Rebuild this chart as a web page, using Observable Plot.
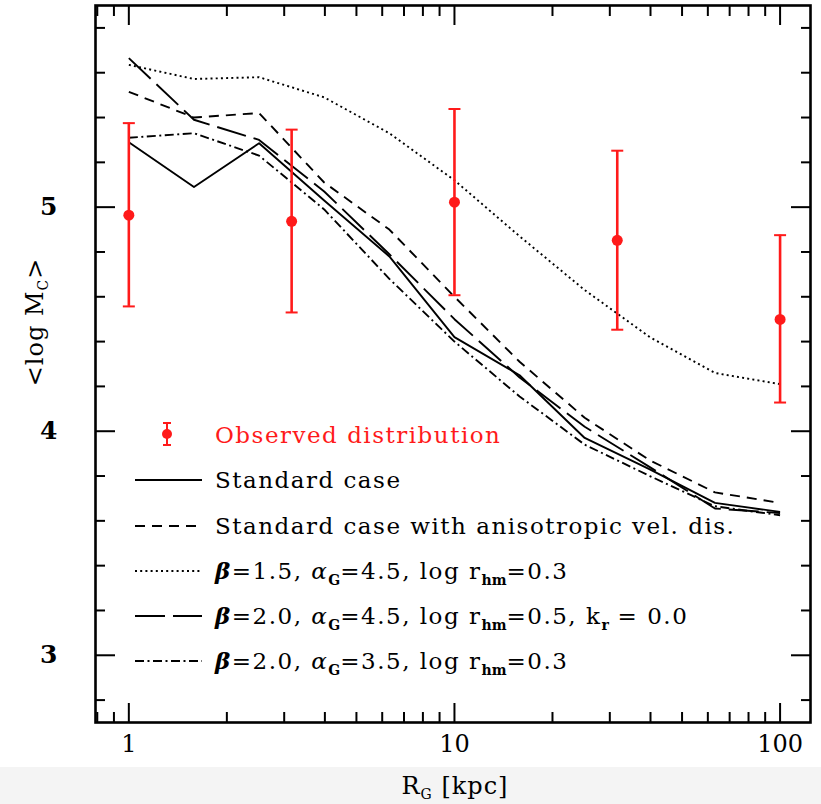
<!DOCTYPE html>
<html><head><meta charset="utf-8">
<script src="https://cdn.jsdelivr.net/npm/d3@7"></script>
<script src="https://cdn.jsdelivr.net/npm/@observablehq/plot@0.6"></script>
<style>
html,body{margin:0;padding:0;}
body{width:821px;height:804px;background:linear-gradient(to bottom,#fff 0,#fff 767px,#f4f4f4 767px);font-family:"DejaVu Serif",serif;position:relative;overflow:hidden;}
#chart{position:absolute;left:0;top:0;}
#legend{position:absolute;left:0;top:0;width:821px;height:804px;pointer-events:none;}
.row{position:absolute;left:215px;font-size:23px;letter-spacing:1.5px;line-height:1;white-space:nowrap;transform:translateY(-50%);color:#000;}
.row sub{font-size:14px;letter-spacing:0;vertical-align:-6px;line-height:0;font-weight:bold;}
.sample{position:absolute;left:135px;}
</style></head><body>
<div id="chart"></div>
<div id="legend"></div>
<script>
// ---- data ----
const radii = [1, 1.585, 2.512, 3.981, 6.310, 10, 15.85, 25.12, 39.81, 63.10, 100];
const standardCase   = [5.29, 5.09, 5.285, 5.03, 4.78, 4.42, 4.25, 3.97, 3.83, 3.68, 3.64];
const anisotropic    = [5.515, 5.40, 5.42, 5.11, 4.90, 4.60, 4.31, 4.06, 3.87, 3.727, 3.68];
const beta15         = [5.635, 5.572, 5.58, 5.49, 5.33, 5.12, 4.87, 4.63, 4.42, 4.26, 4.21];
const beta20kr0      = [5.665, 5.39, 5.30, 5.07, 4.79, 4.50, 4.24, 4.02, 3.84, 3.655, 3.635];
const beta20a35      = [5.31, 5.33, 5.23, 4.99, 4.68, 4.40, 4.155, 3.94, 3.80, 3.665, 3.625];

const obsR    = [1, 3.162, 10, 31.62, 100];
const obsMean = [4.964, 4.937, 5.022, 4.852, 4.499];
const obsLow  = [4.557, 4.530, 4.607, 4.453, 4.128];
const obsHigh = [5.375, 5.346, 5.438, 5.252, 4.875];

const xMajorTicks = [1, 10, 100];
const xMinorTicks = [0.8, 0.9, 2, 3, 4, 5, 6, 7, 8, 9, 20, 30, 40, 50, 60, 70, 80, 90];
const yMajorTicks = [3, 4, 5];
const yMinorTicks = [2.8, 3.2, 3.4, 3.6, 3.8, 4.2, 4.4, 4.6, 4.8, 5.2, 5.4, 5.6, 5.8];

const seriesNames = ["Standard case", "Standard case with anisotropic vel. dis.",
  "β=1.5, αG=4.5, log rhm=0.3", "β=2.0, αG=4.5, log rhm=0.5, kr = 0.0", "β=2.0, αG=3.5, log rhm=0.3"];
const seriesValues = [standardCase, anisotropic, beta15, beta20kr0, beta20a35];
const seriesDash = [null, "10,7", "2,3.2", "30,8", "9,3.5,2,3.5"];

// ---- build ----
const obs = obsR.map((r, i) => ({r, mean: obsMean[i], low: obsLow[i], high: obsHigh[i]}));
const capSymbol = {draw(ctx, size) { const h = Math.sqrt(size / Math.PI); ctx.moveTo(-h, 0); ctx.lineTo(h, 0); }};
const blank = () => "";

const lineMarks = seriesValues.map((vals, s) =>
  Plot.line(radii.map((r, i) => ({r, v: vals[i]})), {
    x: "r", y: "v", stroke: "black", strokeWidth: 1.9,
    strokeDasharray: seriesDash[s] ?? undefined, strokeLinecap: "butt"
  })
);

const tickAxes = [];
for (const anchor of ["bottom", "top"]) {
  tickAxes.push(Plot.axisX(xMajorTicks, {anchor, tickSize: -19, tickFormat: blank, strokeWidth: 2, label: null}));
  tickAxes.push(Plot.axisX(xMinorTicks, {anchor, tickSize: -10, tickFormat: blank, strokeWidth: 2, label: null}));
}
for (const anchor of ["left", "right"]) {
  tickAxes.push(Plot.axisY(yMajorTicks, {anchor, tickSize: -20, tickFormat: blank, strokeWidth: 2, label: null}));
  tickAxes.push(Plot.axisY(yMinorTicks, {anchor, tickSize: -10, tickFormat: blank, strokeWidth: 2, label: null}));
}

const chart = Plot.plot({
  width: 821, height: 804,
  marginLeft: 95, marginRight: 11, marginTop: 5, marginBottom: 82,
  style: {background: "transparent", fontFamily: "DejaVu Serif", color: "black", overflow: "visible"},
  x: {type: "log", domain: [0.79, 124]},
  y: {domain: [2.7, 5.9]},
  marks: [
    ...tickAxes,
    Plot.axisX(xMajorTicks, {anchor: "bottom", tickSize: 0, tickPadding: 12, fontSize: 24, tickFormat: d => String(d), label: null}),
    Plot.axisY(yMajorTicks, {anchor: "left", tickSize: 0, tickPadding: 38, fontSize: 25, fontWeight: "bold", tickFormat: d => String(d), label: null}),
    ...lineMarks,
    Plot.ruleX(obs, {x: "r", y1: "low", y2: "high", stroke: "#ff1a1a", strokeWidth: 2.6}),
    Plot.dot(obs, {x: "r", y: "low", symbol: capSymbol, r: 6, fill: "none", stroke: "#ff1a1a", strokeWidth: 2}),
    Plot.dot(obs, {x: "r", y: "high", symbol: capSymbol, r: 6, fill: "none", stroke: "#ff1a1a", strokeWidth: 2}),
    Plot.dot(obs, {x: "r", y: "mean", r: 5.5, fill: "#ff1a1a", stroke: "none"}),
    Plot.frame({stroke: "black", strokeWidth: 2.6})
  ]
});
document.getElementById("chart").appendChild(chart);

// axis titles
const svg = d3.select(chart);
const xt = svg.append("text").attr("x", 455).attr("y", 794).attr("text-anchor", "middle")
  .attr("font-size", 24).attr("font-family", "DejaVu Serif").attr("fill", "black").attr("letter-spacing", 1);
xt.append("tspan").text("R");
xt.append("tspan").attr("font-size", 14).attr("dy", 5).text("G");
xt.append("tspan").attr("dy", -5).text(" [kpc]");
const yt = svg.append("text").attr("transform", "translate(43,322) rotate(-90)").attr("text-anchor", "middle")
  .attr("font-size", 24).attr("font-family", "DejaVu Serif").attr("fill", "black").attr("letter-spacing", 1);
yt.append("tspan").text("<log M");
yt.append("tspan").attr("font-size", 14).attr("dy", 5).text("C");
yt.append("tspan").attr("dy", -5).text(">");

// legend (HTML overlay inside the plot frame)
const legendRows = [
  {y: 435, html: '<span style="color:#ff1a1a">Observed distribution</span>', obs: true},
  {y: 480, html: 'Standard case', dash: seriesDash[0]},
  {y: 526, html: 'Standard case with anisotropic vel. dis.', dash: seriesDash[1]},
  {y: 571, html: '<b><i>β</i></b>=1.5, <i>α</i><sub>G</sub>=4.5, log r<sub>hm</sub>=0.3', dash: seriesDash[2]},
  {y: 616, html: '<b><i>β</i></b>=2.0, <i>α</i><sub>G</sub>=4.5, log r<sub>hm</sub>=0.5, k<sub>r</sub> = 0.0', dash: seriesDash[3]},
  {y: 661, html: '<b><i>β</i></b>=2.0, <i>α</i><sub>G</sub>=3.5, log r<sub>hm</sub>=0.3', dash: seriesDash[4]}
];
const legend = document.getElementById("legend");
for (const row of legendRows) {
  const t = document.createElement("div");
  t.className = "row"; t.style.top = row.y + "px"; t.innerHTML = row.html;
  legend.appendChild(t);
  const s = d3.create("svg").attr("class", "sample").attr("width", 70).attr("height", 30)
    .style("top", (row.y - 15) + "px");
  if (row.obs) {
    s.append("line").attr("x1", 32).attr("x2", 32).attr("y1", 3).attr("y2", 25).attr("stroke", "#ff1a1a").attr("stroke-width", 2);
    s.append("line").attr("x1", 28).attr("x2", 36).attr("y1", 3).attr("y2", 3).attr("stroke", "#ff1a1a").attr("stroke-width", 2);
    s.append("line").attr("x1", 28).attr("x2", 36).attr("y1", 25).attr("y2", 25).attr("stroke", "#ff1a1a").attr("stroke-width", 2);
    s.append("circle").attr("cx", 32).attr("cy", 14).attr("r", 5).attr("fill", "#ff1a1a");
  } else {
    s.append("line").attr("x1", 0).attr("x2", 67).attr("y1", 15).attr("y2", 15).attr("stroke", "black")
      .attr("stroke-width", 1.9).attr("stroke-dasharray", row.dash);
  }
  legend.appendChild(s.node());
}
</script>
</body></html>
